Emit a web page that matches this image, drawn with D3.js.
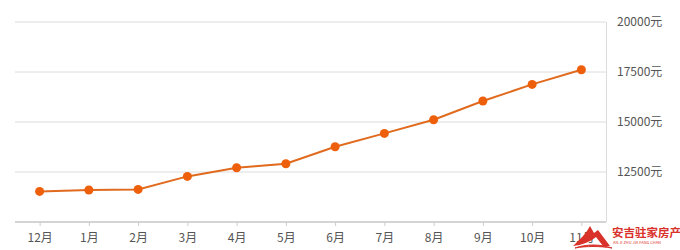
<!DOCTYPE html>
<html>
<head>
<meta charset="utf-8">
<script src="https://cdn.jsdelivr.net/npm/d3@7"></script>
<style>
    body { margin: 0; background: #fff; }
    svg { display: block; font-family: "Noto Sans CJK SC", "Open Sans", sans-serif; }
</style>
</head>
<body>
<div id="chart"></div>
<script>
// monthly average price (元/m²)
const months = ["12月", "1月", "2月", "3月", "4月", "5月", "6月", "7月", "8月", "9月", "10月", "11月"]
const prices = [11530, 11600, 11630, 12280, 12715, 12915, 13765, 14430, 15115, 16050, 16880, 17615]
const yTicks = [12500, 15000, 17500, 20000]

const width = 680
const height = 250
const margin = { top: 22, right: 74, bottom: 28, left: 15 }

const svg = d3.select("#chart").append("svg")
    .attr("width", width)
    .attr("height", height)

let x = d3.scalePoint()
    .domain(months)
    .range([margin.left, width - margin.right])
    .padding(0.5)

let y = d3.scaleLinear()
    .domain([10000, 20000])
    .range([height - margin.bottom, margin.top])

// horizontal grid lines
svg.append("g")
    .selectAll("line")
    .data(yTicks)
    .join("line")
        .attr("x1", margin.left)
        .attr("x2", width - margin.right)
        .attr("y1", (d) => y(d))
        .attr("y2", (d) => y(d))
        .attr("stroke", "#dcdcdc")
        .attr("stroke-width", 1)

// right border of the plot
svg.append("line")
    .attr("x1", width - margin.right + 0.5)
    .attr("x2", width - margin.right + 0.5)
    .attr("y1", y(20000))
    .attr("y2", y(10000))
    .attr("stroke", "#dcdcdc")

// right axis labels
svg.append("g")
    .selectAll("text")
    .data(yTicks)
    .join("text")
        .text((d) => d + "元")
        .attr("x", width - margin.right + 11)
        .attr("y", (d) => y(d))
        .attr("dy", "0.35em")
        .attr("font-size", 12)
        .attr("fill", "#555")

// bottom axis
const xAxis = svg.append("g")
    .attr("transform", "translate(0," + y(10000) + ")")
    .call(d3.axisBottom(x).tickSize(4).tickPadding(7))

xAxis.select(".domain")
    .attr("d", "M" + margin.left + ",0H" + (width - margin.right))
    .attr("stroke", "#d4d4d4")
    .attr("stroke-width", 2)

xAxis.selectAll(".tick line")
    .attr("stroke", "#ccc")

xAxis.selectAll(".tick text")
    .attr("font-size", 12)
    .attr("fill", "#555")
    .attr("font-family", "\"Noto Sans CJK SC\", sans-serif")

// the price line
const line = d3.line()
    .x((d, i) => x(months[i]))
    .y((d) => y(d))

svg.append("path")
    .datum(prices)
    .attr("fill", "none")
    .attr("stroke", "#e06a1e")
    .attr("stroke-width", 2)
    .attr("d", line)

svg.append("g")
    .selectAll("circle")
    .data(prices)
    .join("circle")
        .attr("cx", (d, i) => x(months[i]))
        .attr("cy", (d) => y(d))
        .attr("r", 4.5)
        .attr("fill", "#ee5f0c")

// watermark in the bottom right corner
const logo = svg.append("g")
    .attr("transform", "translate(572,225)")

logo.append("path")
    .attr("d", "M1,21 C8,14 14,9 18,1 L22,8 L26,5 L38,21 L31,21 L24,12 C18,17 10,20 1,21 Z")
    .attr("fill", "#d9322b")

logo.append("path")
    .attr("d", "M3,23 C14,19 28,19 40,23 C28,21 14,21 3,23 Z")
    .attr("fill", "#d9322b")
    .attr("stroke", "#d9322b")

logo.append("text")
    .text("安吉驻家房产")
    .attr("x", 40)
    .attr("y", 12)
    .attr("font-size", 11.5)
    .attr("font-weight", "bold")
    .attr("fill", "#d9322b")

logo.append("text")
    .text("AN JI ZHU JIA FANG CHAN")
    .attr("x", 41)
    .attr("y", 19)
    .attr("font-size", 4)
    .attr("fill", "#d9322b")
</script>
</body>
</html>
